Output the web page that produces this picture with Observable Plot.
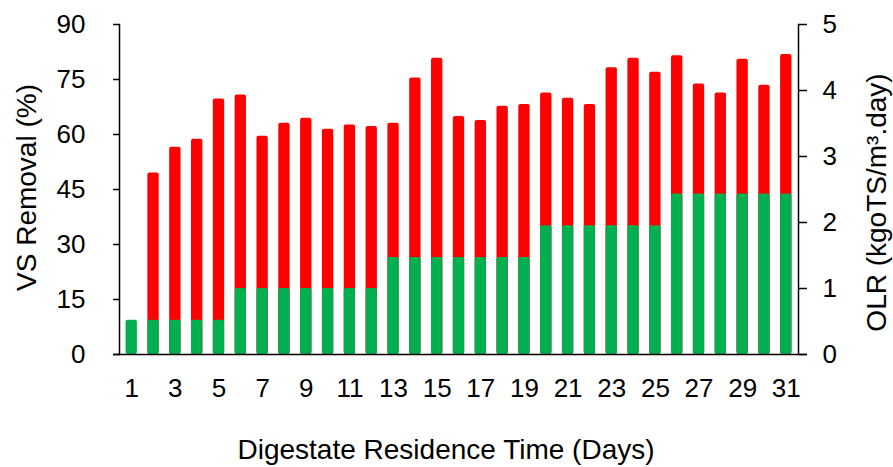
<!DOCTYPE html>
<html>
<head>
<meta charset="utf-8">
<script src="https://cdn.jsdelivr.net/npm/d3@7"></script>
<script src="https://cdn.jsdelivr.net/npm/@observablehq/plot@0.6"></script>
<style>
  html, body { margin: 0; padding: 0; background: #fff; }
</style>
</head>
<body>
<div id="chart"></div>
<script>
// Digestate residence time, days
const days = [1, 2, 3, 4, 5, 6, 7, 8, 9, 10, 11, 12, 13, 14, 15, 16,
              17, 18, 19, 20, 21, 22, 23, 24, 25, 26, 27, 28, 29, 30, 31];

// Volatile solids removal, % (no value on day 1)
const vsRemoval = [null, 49.5, 56.5, 58.7, 69.7, 70.8, 59.5, 63.1, 64.4, 61.4, 62.6,
                   62.2, 63.1, 75.4, 80.8, 64.9, 63.8, 67.7, 68.2, 71.3, 69.9,
                   68.2, 78.2, 80.8, 77.0, 81.5, 73.8, 71.3, 80.5, 73.4, 81.8];

// Organic loading rate, kgoTS/m3.day
const olr = [0.52, 0.52, 0.52, 0.52, 0.52,
             1.0, 1.0, 1.0, 1.0, 1.0, 1.0, 1.0,
             1.47, 1.47, 1.47, 1.47, 1.47, 1.47, 1.47,
             1.95, 1.95, 1.95, 1.95, 1.95, 1.95,
             2.43, 2.43, 2.43, 2.43, 2.43, 2.43];

const vsTicks = [0, 15, 30, 45, 60, 75, 90];
const olrTicks = [0, 1, 2, 3, 4, 5];
const dayTicks = [1, 3, 5, 7, 9, 11, 13, 15, 17, 19, 21, 23, 25, 27, 29, 31];

// The OLR series shares the VS scale: 5 on the right axis lines up with 90 on the left.
const VS_MAX = 90, OLR_MAX = 5;
const k = VS_MAX / OLR_MAX;

const rows = days.map((day, i) => ({day, vs: vsRemoval[i], olr: olr[i]}));

const font = "'Liberation Sans', Arial, Helvetica, sans-serif";
const fs = 26;      // tick labels
const fsTitle = 28; // axis titles

const chart = Plot.plot({
  width: 893,
  height: 467,
  marginLeft: 119,
  marginRight: 95,
  marginTop: 24,
  marginBottom: 113,
  style: {fontFamily: font, fontSize: fs + "px", color: "#000", background: "#fff"},
  x: {type: "band", domain: days, paddingInner: 0.48, paddingOuter: 0.3, round: false, axis: null},
  y: {domain: [0, VS_MAX], axis: null},
  marks: [
    Plot.barY(rows.filter(d => d.vs != null), {x: "day", y: "vs", fill: "#ff0000", rx: 2}),
    Plot.barY(rows, {x: "day", y: d => d.olr * k, fill: "#00b050", rx: 2}),
    Plot.axisY(vsTicks, {
      anchor: "left", label: null, tickSize: 6, tickPadding: 28, fontSize: fs, strokeWidth: 1.5
    }),
    Plot.axisY(olrTicks.map(v => v * k), {
      anchor: "right", label: null, tickSize: 8, tickPadding: 16, fontSize: fs, strokeWidth: 1.5,
      tickFormat: v => String(Math.round(v / k))
    }),
    Plot.axisX(dayTicks, {anchor: "bottom", label: null, tickSize: 0, tickPadding: 24, fontSize: fs}),
    Plot.frame({anchor: "left", strokeWidth: 1.5}),
    Plot.frame({anchor: "right", strokeWidth: 1.5}),
    Plot.ruleY([0], {insetLeft: -6, insetRight: -9, strokeWidth: 1.5}),
    Plot.text(["VS Removal (%)"], {
      text: d => d, frameAnchor: "left", rotate: -90, textAnchor: "middle", lineAnchor: "bottom",
      dx: -84, dy: -2, fontSize: fsTitle
    }),
    Plot.text(["OLR (kgoTS/m³.day)"], {
      text: d => d, frameAnchor: "right", rotate: -90, textAnchor: "middle", lineAnchor: "bottom",
      dx: 87, dy: 13, fontSize: fsTitle
    }),
    Plot.text(["Digestate Residence Time (Days)"], {
      text: d => d, frameAnchor: "bottom", textAnchor: "middle", lineAnchor: "bottom",
      dx: -13, dy: 104, fontSize: fsTitle
    })
  ]
});

document.getElementById("chart").append(chart);
</script>
</body>
</html>
